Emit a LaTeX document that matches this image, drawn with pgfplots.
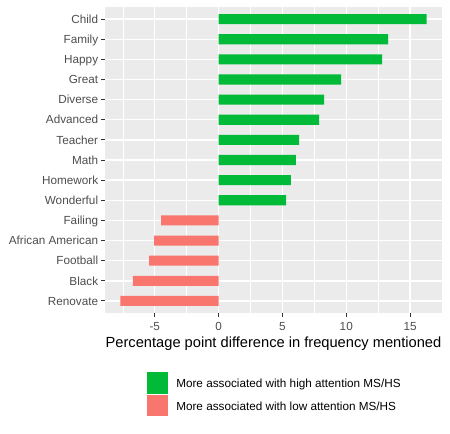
\documentclass[border=0pt]{standalone}
\usepackage{pgfplots}
\pgfplotsset{compat=1.18}
\usepackage{fontspec}
\setmainfont{Liberation Sans}
\definecolor{hi}{HTML}{00BA38}
\definecolor{lo}{HTML}{F8766D}
\definecolor{panel}{HTML}{EBEBEB}
\definecolor{ticklab}{HTML}{4D4D4D}
\definecolor{tickc}{HTML}{333333}
\begin{document}
\begin{tikzpicture}
\path[use as bounding box] (0,0) rectangle (337.5pt,-324.75pt);
\begin{axis}[
  at={(78.75pt,-234.75pt)}, anchor=south west,
  scale only axis, width=252.75pt, height=229.5pt,
  xmin=-8.9, xmax=17.5, ymin=0.4, ymax=15.6, y dir=reverse,
  xbar, bar width=0.5, bar shift=0pt,
  axis background/.style={fill=panel},
  axis line style={draw=none},
  xtick={-5,0,5,10,15}, xticklabels={-5,0,5,10,15},
  minor xtick={-7.5,-2.5,2.5,7.5,12.5,17.5},
  ytick={1,...,15},
  yticklabels={Child,Family,Happy,Great,Diverse,Advanced,Teacher,Math,Homework,Wonderful,Failing,African American,Football,Black,Renovate},
  xtick pos=left, ytick pos=left,
  tick align=outside, major tick length=2.75pt, minor tick length=0pt,
  every tick/.style={tickc, line width=0.75pt},
  xmajorgrids, ymajorgrids, xminorgrids,
  major grid style={white, line width=1.07pt},
  minor grid style={white, line width=0.53pt},
  xticklabel style={font=\fontsize{8.8}{10}\selectfont, text=ticklab, inner sep=0pt, anchor=north, yshift=-4.2pt},
  yticklabel style={font=\fontsize{8.8}{10}\selectfont, text=ticklab, inner sep=0pt, anchor=base east, yshift=-3.15pt, xshift=-2.2pt},
  xlabel={Percentage point difference in frequency mentioned},
  xlabel style={at={(axis description cs:0.5,-0.0784)}, anchor=north, inner sep=0pt, font=\fontsize{11}{13}\selectfont},
  legend cell align=left,
  legend style={at={(axis description cs:0.1237,-0.1938)}, anchor=north west, draw=none, fill=none,
    inner sep=0pt, outer sep=0pt, row sep=0.6pt, font=\fontsize{8.8}{10}\selectfont,
    nodes={inner sep=0pt, anchor=base west},
    /tikz/every odd column/.append style={column sep=6pt}},
  legend image code/.code={\fill[#1] (0pt,-4.5pt) rectangle (16.2pt,11.7pt);},
]
\addplot[fill=hi, draw=none] coordinates {(16.3,1) (13.27,2) (12.8,3) (9.59,4) (8.26,5) (7.87,6) (6.3,7) (6.06,8) (5.67,9) (5.28,10)};
\addplot[fill=lo, draw=none] coordinates {(-4.51,11) (-5.06,12) (-5.45,13) (-6.71,14) (-7.7,15)};
\legend{More associated with high attention MS/HS, More associated with low attention MS/HS}
\end{axis}
\end{tikzpicture}
\end{document}
